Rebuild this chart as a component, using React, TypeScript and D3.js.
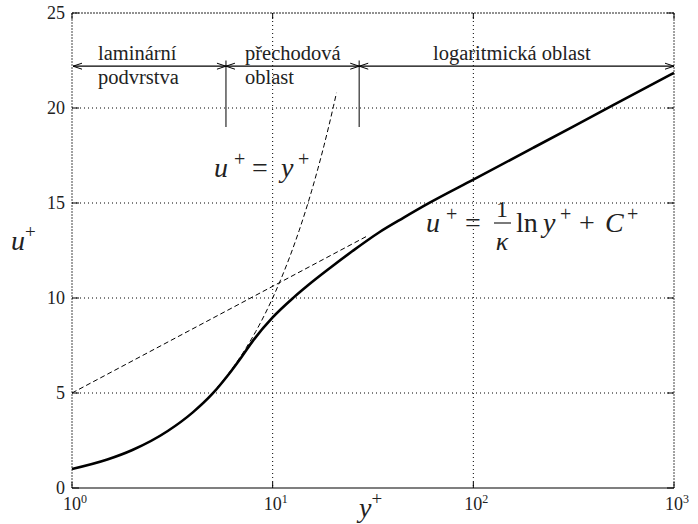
import React from "react";
import * as d3 from "d3";

// Velocity profile in the turbulent boundary layer (law of the wall)
const W = 698;
const H = 524;

// Axis ticks
const yPlusTicks = [1, 10, 100, 1000];
const yPlusTickExponents = ["0", "1", "2", "3"];
const uPlusTicks = [0, 5, 10, 15, 20, 25];
const gridX = [10, 100];
const gridY = [5, 10, 15, 20];

// Measured velocity profile u+(y+)
const profileYPlus = [1, 1.5, 2, 3, 4, 5, 6, 7, 8, 10, 12.7, 15, 19.3, 25, 34, 45, 60, 100, 200, 500, 1000];
const profileUPlus = [1.0, 1.5, 2.0, 3.0, 3.98, 4.95, 5.95, 6.9, 7.77, 8.98, 10.02, 10.67, 11.58, 12.47, 13.46, 14.23, 14.99, 16.23, 17.92, 20.16, 21.85];

// Log law constants: u+ = (1/kappa) ln y+ + C+
const kappa = 0.41;
const Cplus = 5.0;
const viscousRange = [5, 20.8];
const logLawRange = [1, 30];

// Sublayer regions
const regionBounds = [1, 5.85, 27, 1000];
const regionLabels = [
  ["laminární", "podvrstva"],
  ["přechodová", "oblast"],
  ["logaritmická oblast"],
];
const regionArrowU = 22.2;
const dividerU = [19, 22.5];

const serif = "Liberation Serif";

export default function App() {
  const left = 72, right = 674, top = 13, bottom = 488;
  const x = d3.scaleLog().domain([1, 1000]).range([left, right]);
  const y = d3.scaleLinear().domain([0, 25]).range([bottom, top]);

  const line = d3
    .line<[number, number]>()
    .x((d) => x(d[0]))
    .y((d) => y(d[1]));

  const profile: [number, number][] = profileYPlus.map((v, i) => [v, profileUPlus[i]]);
  const profilePath = line.curve(d3.curveMonotoneX)(profile) || "";

  const logSamples = d3.range(0, 41).map((i) => {
    const t = Math.log10(viscousRange[0]) + (i / 40) * (Math.log10(viscousRange[1]) - Math.log10(viscousRange[0]));
    return Math.pow(10, t);
  });
  const viscousPath =
    d3.line<number>().x((v) => x(v)).y((v) => y(v))(logSamples) || "";

  const logLaw = (v: number) => Math.log(v) / kappa + Cplus;
  const logLawPath =
    d3
      .line<number>()
      .x((v) => x(v))
      .y((v) => y(logLaw(v)))([logLawRange[0], logLawRange[1]]) || "";

  const ay = y(regionArrowU);
  const arrowHead = (px: number, dir: number) =>
    `M${px - dir * 9},${ay - 3} L${px},${ay} L${px - dir * 9},${ay + 3}`;

  const textColor = "#222";
  const tf = { fontFamily: serif };

  return (
    <svg
      width={W}
      height={H}
      style={{ position: "absolute", left: 0, top: 0, background: "#fff" }}
    >
      <rect x={0} y={0} width={W} height={H} fill="#fff" />

      {/* grid */}
      {gridX.map((v) => (
        <line key={"gx" + v} x1={x(v)} x2={x(v)} y1={top} y2={bottom} stroke="#000" strokeWidth={1} strokeDasharray="1 3" />
      ))}
      {gridY.map((v) => (
        <line key={"gy" + v} x1={left} x2={right} y1={y(v)} y2={y(v)} stroke="#000" strokeWidth={1} strokeDasharray="1 3" />
      ))}

      {/* frame */}
      <line x1={left} x2={right} y1={top} y2={top} stroke="#222" strokeWidth={1} strokeDasharray="2 1" />
      <line x1={left} x2={left} y1={top} y2={bottom} stroke="#444" strokeWidth={1} strokeDasharray="2 1" />
      <line x1={right} x2={right} y1={top} y2={bottom} stroke="#444" strokeWidth={1} strokeDasharray="2 1" />
      <line x1={left} x2={right} y1={bottom} y2={bottom} stroke="#000" strokeWidth={1.2} />

      {/* ticks */}
      {uPlusTicks.map((v) => (
        <g key={"ty" + v}>
          <line x1={left} x2={left + 7} y1={y(v)} y2={y(v)} stroke="#000" strokeWidth={1} />
          <line x1={right - 7} x2={right} y1={y(v)} y2={y(v)} stroke="#000" strokeWidth={1} />
          <text x={65} y={y(v)} dy="0.35em" textAnchor="end" fontSize={18} fill={textColor} style={tf}>
            {v}
          </text>
        </g>
      ))}
      {yPlusTicks.map((v, i) => (
        <g key={"tx" + v}>
          <line x1={x(v)} x2={x(v)} y1={bottom} y2={bottom - 6} stroke="#000" strokeWidth={1} />
          <line x1={x(v)} x2={x(v)} y1={top} y2={top + 6} stroke="#000" strokeWidth={1} />
          <text x={x(v) + 3} y={510} textAnchor="middle" fontSize={18} fill={textColor} style={tf}>
            10
            <tspan dy={-7} fontSize={12}>
              {yPlusTickExponents[i]}
            </tspan>
          </text>
        </g>
      ))}

      {/* axis titles */}
      <text x={11} y={250} fontSize={28} fontStyle="italic" fill={textColor} style={tf}>
        u<tspan dy={-12} fontSize={19} fontStyle="normal">+</tspan>
      </text>
      <text x={359} y={517} fontSize={28} fontStyle="italic" fill={textColor} style={tf}>
        y<tspan dy={-12} fontSize={19} fontStyle="normal">+</tspan>
      </text>

      {/* region labels */}
      <text x={98} y={60} fontSize={20.5} fill={textColor} style={tf}>{regionLabels[0][0]}</text>
      <text x={98} y={84} fontSize={20.5} fill={textColor} style={tf}>{regionLabels[0][1]}</text>
      <text x={245} y={60} fontSize={20.5} fill={textColor} style={tf}>{regionLabels[1][0]}</text>
      <text x={245} y={84} fontSize={20.5} fill={textColor} style={tf}>{regionLabels[1][1]}</text>
      <text x={433} y={60} fontSize={20.5} fill={textColor} style={tf}>{regionLabels[2][0]}</text>

      {/* law labels */}
      <g fontSize={28} fill={textColor}>
        <text x={214} y={177} fontStyle="italic" style={tf}>u</text>
        <text x={234} y={166} fontSize={20} style={tf}>+</text>
        <text x={252} y={177} style={tf}>=</text>
        <text x={281} y={177} fontStyle="italic" style={tf}>y</text>
        <text x={298} y={166} fontSize={20} style={tf}>+</text>

        <text x={426} y={232} fontStyle="italic" style={tf}>u</text>
        <text x={446} y={221} fontSize={20} style={tf}>+</text>
        <text x={465} y={232} style={tf}>=</text>
        <text x={502} y={217} textAnchor="middle" fontSize={24} style={tf}>1</text>
        <line x1={494} x2={511} y1={223} y2={223} stroke={textColor} strokeWidth={1.2} />
        <text x={502} y={250} textAnchor="middle" fontStyle="italic" fontSize={26} style={tf}>κ</text>
        <text x={516} y={232} style={tf}>ln</text>
        <text x={543} y={232} fontStyle="italic" style={tf}>y</text>
        <text x={560} y={221} fontSize={20} style={tf}>+</text>
        <text x={579} y={232} style={tf}>+</text>
        <text x={605} y={232} fontStyle="italic" style={tf}>C</text>
        <text x={627} y={221} fontSize={20} style={tf}>+</text>
      </g>

      {/* reference laws */}
      <path d={viscousPath} fill="none" stroke="#000" strokeWidth={1} strokeDasharray="5 3" />
      <path d={logLawPath} fill="none" stroke="#000" strokeWidth={1} strokeDasharray="5 3" />

      {/* velocity profile */}
      <path d={profilePath} fill="none" stroke="#000" strokeWidth={2.6} strokeLinejoin="round" />

      {/* region dividers and arrows */}
      {regionBounds.slice(1, -1).map((v) => (
        <line key={"div" + v} x1={x(v)} x2={x(v)} y1={y(dividerU[1])} y2={y(dividerU[0])} stroke="#555" strokeWidth={1.5} />
      ))}
      {regionLabels.map((lbl, i) => {
        const x0 = x(regionBounds[i]) + (i === 0 ? 1 : 0);
        const x1 = x(regionBounds[i + 1]);
        return (
          <g key={"reg" + i}>
            <line x1={x0} x2={x1} y1={ay} y2={ay} stroke="#000" strokeWidth={1.2} />
            <path d={arrowHead(x0, -1)} fill="none" stroke="#000" strokeWidth={1} />
            <path d={arrowHead(x1, 1)} fill="none" stroke="#000" strokeWidth={1} />
          </g>
        );
      })}
    </svg>
  );
}
